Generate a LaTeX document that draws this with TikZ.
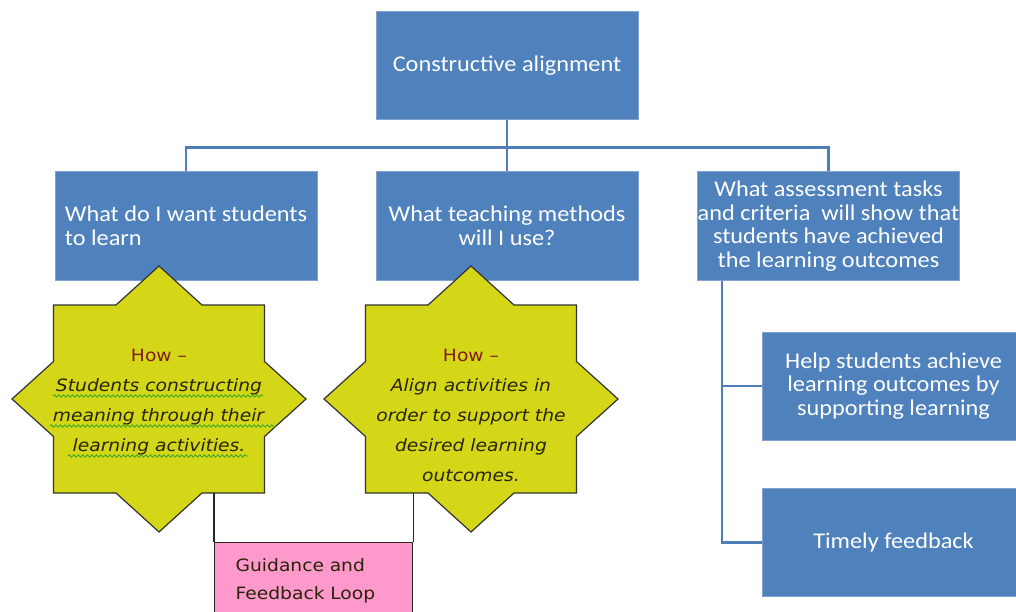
\documentclass[tikz,border=0pt]{standalone}
\usepackage{fontspec}
\usetikzlibrary{decorations.pathmorphing}
\newfontfamily\boxfont{Carlito}[FakeStretch=1.08]
\newfontfamily\howfont{DejaVu Sans}[FakeStretch=1.1,ItalicFont={DejaVu Sans Oblique}]
\definecolor{boxblue}{RGB}{79,129,189}
\definecolor{boxedge}{RGB}{130,163,208}
\definecolor{linkblue}{RGB}{79,125,185}
\definecolor{starfill}{RGB}{212,214,24}
\definecolor{loopfill}{RGB}{255,153,204}
\definecolor{howred}{RGB}{128,30,30}
\definecolor{howdark}{RGB}{40,36,8}
\definecolor{spellgreen}{RGB}{60,170,40}
\tikzset{qbox/.style={rectangle,fill=boxblue,draw=boxedge,line width=1pt,text=white,
  minimum width=262pt,minimum height=108pt,inner xsep=0pt,align=center,
  font=\boxfont\fontsize{22.5}{23.5}\selectfont}}
\tikzset{link/.style={draw=linkblue,line width=2.5pt}}
\tikzset{starbody/.style={rectangle,minimum width=211pt,minimum height=188pt,inner sep=0pt}}
\tikzset{howtext/.style={anchor=north,inner sep=0pt,align=center,text=howdark,
  font=\howfont\fontsize{17}{30}\selectfont}}
\tikzset{spellwave/.style={draw=spellgreen,line width=0.9pt,decorate,
  decoration={snake,amplitude=1.2pt,segment length=4.5pt}}}
\tikzset{loopbox/.style={rectangle,fill=loopfill,draw=black!85,line width=1.2pt,anchor=north west,
  text width=156pt,inner xsep=21pt,inner ysep=16pt,text depth=70pt,align=left,text=howdark,
  font=\howfont\fontsize{17}{28}\selectfont}}
\tikzset{howstar/.pic={\draw[fill=starfill,draw=black!80,line width=1.2pt]
  (0,-133) -- (43,-94) -- (105.5,-94) -- (105.5,-37.5) -- (147,0) -- (105.5,37.5) -- (105.5,94) -- (43,94)
  -- (0,133) -- (-43,94) -- (-105.5,94) -- (-105.5,37.5) -- (-147,0) -- (-105.5,-37.5) -- (-105.5,-94) -- (-43,-94) -- cycle;}}
\begin{document}
\begin{tikzpicture}[x=1pt,y=-1pt]
      \useasboundingbox (0,0) rectangle (1016,612);
      \clip (0,0) rectangle (1016,612);
      \node[qbox] (CA) at (507,66) {Constructive alignment};
      \node[qbox,align=left] (Q1) at (186,226) {What do I want students\\to learn};
      \node[qbox] (Q2) at (507,226) {What teaching methods\\will I use?};
      \node[qbox] (Q3) at (828.5,226) {What assessment tasks\\and criteria~ will show that\\students have achieved\\the learning outcomes};
      \node[qbox] (H) at (893.5,386) {Help students achieve\\learning outcomes by\\supporting learning};
      \node[qbox] (T) at (893.5,542.5) {Timely feedback};
      \foreach \b in {Q1,Q2,Q3}
        \draw[link] (CA.south) -- ++(0,27) -| (\b.north);
      \coordinate (R) at ([xshift=25pt]Q3.south west);
      \foreach \b in {H,T}
        \draw[link] (R) |- (\b.west);
      \node[starbody] (S1) at (159,399) {};
      \node[starbody] (S2) at (471,399) {};
      \pic at (S1) {howstar};
      \pic at (S2) {howstar};
      \node[howtext] (W1) at (159,348.5) {\textcolor{howred}{How –}\\\textit{Students constructing}\\\textit{meaning through their}\\\textit{learning activities.}};
      \foreach \l/\r/\d in {-106/104/47.5,-109/117/77.5,-91/89/107.5}
        \draw[spellwave] ([shift={(\l,\d)}]W1.north) -- ([shift={(\r,\d)}]W1.north);
      \node[howtext] (W2) at (471,348.5) {\textcolor{howred}{How –}\\\textit{Align activities in}\\\textit{order to support the}\\\textit{desired learning}\\\textit{outcomes.}};
      \node[loopbox] (G) at (214,542) {Guidance and\\Feedback Loop};
      \draw[black!85,line width=1.2pt] (S1.south -| G.north west) -- (G.north west);
      \draw[black!85,line width=1.2pt] (S2.south -| G.north east) -- (G.north east);
    \end{tikzpicture}
\end{document}
